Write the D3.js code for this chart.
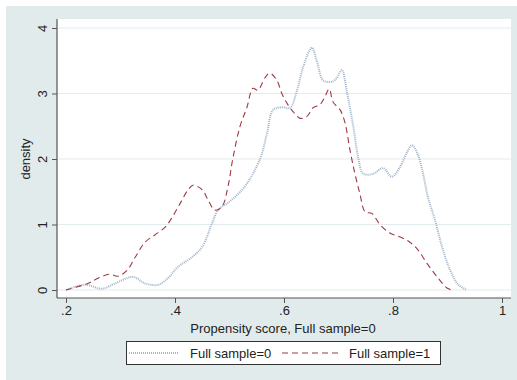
<!DOCTYPE html>
<html>

<head>
    <meta charset="UTF-8">
    <style>
        body { margin: 0; background: #fff; }
        svg { display: block; font-family: "Liberation Sans", Arial, sans-serif; }
    </style>
</head>

<body>
    <svg></svg>
    <script src="https://d3js.org/d3.v7.min.js"></script>

    <script>
        // density of propensity score, group 0 (Full sample=0)
        const score0 = [0.2, 0.235, 0.266, 0.29, 0.323, 0.345, 0.369, 0.387, 0.405, 0.431, 0.45, 0.468, 0.479, 0.497, 0.51,
            0.53, 0.556, 0.569, 0.58, 0.598, 0.611, 0.624, 0.635, 0.651, 0.66, 0.672, 0.688, 0.697, 0.706, 0.716,
            0.727, 0.736, 0.745, 0.763, 0.782, 0.798, 0.813, 0.825, 0.835, 0.846, 0.855, 0.864, 0.877, 0.89, 0.905, 0.92, 0.936];
        const density0 = [0, 0.08, 0.02, 0.1, 0.2, 0.1, 0.08, 0.18, 0.35, 0.5, 0.66, 1.02, 1.22, 1.33, 1.42,
            1.6, 2.0, 2.4, 2.75, 2.79, 2.78, 3.05, 3.4, 3.7, 3.5, 3.2, 3.18, 3.24, 3.36, 3.0,
            2.5, 2.03, 1.78, 1.77, 1.86, 1.73, 1.88, 2.09, 2.21, 2.06, 1.78, 1.42, 1.07, 0.66, 0.3, 0.08, 0];

        // density of propensity score, group 1 (Full sample=1)
        const score1 = [0.2, 0.24, 0.259, 0.28, 0.295, 0.312, 0.327, 0.345, 0.363, 0.382, 0.394, 0.41, 0.424, 0.433,
            0.45, 0.461, 0.473, 0.486, 0.497, 0.506, 0.519, 0.532, 0.543, 0.552, 0.565, 0.574, 0.587, 0.596,
            0.607, 0.617, 0.63, 0.642, 0.653, 0.666, 0.675, 0.683, 0.69, 0.703, 0.712, 0.721, 0.73, 0.739,
            0.749, 0.761, 0.776, 0.794, 0.813, 0.831, 0.846, 0.862, 0.881, 0.899, 0.908];
        const density1 = [0, 0.1, 0.18, 0.24, 0.21, 0.3, 0.5, 0.73, 0.84, 0.96, 1.1, 1.33, 1.53, 1.6,
            1.53, 1.37, 1.22, 1.27, 1.57, 2.0, 2.49, 2.79, 3.08, 3.05, 3.24, 3.31, 3.2, 3.0,
            2.83, 2.72, 2.62, 2.65, 2.78, 2.83, 2.95, 3.07, 2.87, 2.75, 2.55, 2.14, 1.78, 1.48,
            1.19, 1.17, 1.0, 0.87, 0.81, 0.73, 0.61, 0.41, 0.2, 0.03, 0];

        const xTicks = [0.2, 0.4, 0.6, 0.8, 1];
        const xTickLabels = [".2", ".4", ".6", ".8", "1"];
        const yTicks = [0, 1, 2, 3, 4];
        const seriesNames = ["Full sample=0", "Full sample=1"];

        const width = 517, height = 380;
        const plot = { left: 57, right: 511, top: 19, bottom: 298 };
        const fontSize = 13;

        const svg = d3.select("svg")
            .attr("width", width)
            .attr("height", height);

        // outer (graph region) background
        svg.append("rect")
            .attr("x", 6).attr("y", 6)
            .attr("width", width - 6).attr("height", height - 6)
            .attr("fill", "#e1ebeb");

        // plot region
        svg.append("rect")
            .attr("x", plot.left).attr("y", plot.top)
            .attr("width", plot.right - plot.left).attr("height", plot.bottom - plot.top)
            .attr("fill", "#fff");

        const x = d3.scaleLinear().domain([0.2, 1]).range([66, 502]);
        const y = d3.scaleLinear().domain([0, 4]).range([290, 28]);

        // gridlines
        svg.append("g")
            .selectAll("line")
            .data(yTicks)
            .join("line")
            .attr("x1", plot.left + 1).attr("x2", plot.right)
            .attr("y1", d => y(d)).attr("y2", d => y(d))
            .attr("stroke", "#e3ecec")
            .attr("stroke-width", 1.2);

        // y axis, labels turned on their side
        const yAxis = d3.axisLeft(y)
            .tickValues(yTicks)
            .tickFormat(d3.format("d"))
            .tickSize(5)
            .tickSizeOuter(0);
        const gy = svg.append("g")
            .attr("transform", `translate(${plot.left},0)`)
            .call(yAxis);
        gy.select(".domain").remove();
        gy.selectAll(".tick line").attr("stroke", "#555");
        gy.selectAll(".tick text")
            .attr("font-size", fontSize)
            .attr("fill", "#222")
            .attr("text-anchor", "middle")
            .attr("x", 0).attr("y", 0).attr("dy", null)
            .attr("transform", "translate(-10,0) rotate(-90)");
        svg.append("line")
            .attr("x1", plot.left).attr("x2", plot.left)
            .attr("y1", plot.top).attr("y2", plot.bottom)
            .attr("stroke", "#555").attr("stroke-width", 1.2);

        // x axis
        const xAxis = d3.axisBottom(x)
            .tickValues(xTicks)
            .tickFormat((d, i) => xTickLabels[i])
            .tickSize(5)
            .tickPadding(3)
            .tickSizeOuter(0);
        const gx = svg.append("g")
            .attr("transform", `translate(0,${plot.bottom})`)
            .call(xAxis);
        gx.select(".domain").remove();
        gx.selectAll(".tick line").attr("stroke", "#555");
        gx.selectAll(".tick text").attr("font-size", fontSize).attr("fill", "#222");
        svg.append("line")
            .attr("x1", plot.left).attr("x2", plot.right)
            .attr("y1", plot.bottom).attr("y2", plot.bottom)
            .attr("stroke", "#555").attr("stroke-width", 1.2);

        // axis titles
        svg.append("text")
            .attr("x", 283).attr("y", 333)
            .attr("text-anchor", "middle")
            .attr("font-size", fontSize).attr("fill", "#222")
            .text("Propensity score, Full sample=0");
        svg.append("text")
            .attr("transform", "translate(30,159) rotate(-90)")
            .attr("text-anchor", "middle")
            .attr("font-size", fontSize).attr("fill", "#222")
            .text("density");

        // curves
        const line = d3.line()
            .x(d => x(d[0]))
            .y(d => y(d[1]))
            .curve(d3.curveCatmullRom.alpha(0.5));

        const styles = [
            { stroke: "#9fb3c9", dash: "1,1", width: 2 },
            { stroke: "#9b3a44", dash: "6,4", width: 1.1 }
        ];

        const series = [
            d3.zip(score0, density0),
            d3.zip(score1, density1)
        ];

        svg.append("g")
            .selectAll("path")
            .data(series)
            .join("path")
            .attr("d", line)
            .attr("fill", "none")
            .attr("stroke", (d, i) => styles[i].stroke)
            .attr("stroke-width", (d, i) => styles[i].width)
            .attr("stroke-dasharray", (d, i) => styles[i].dash);

        // legend
        const legend = svg.append("g");
        legend.append("rect")
            .attr("x", 126.5).attr("y", 341.5)
            .attr("width", 314).attr("height", 23)
            .attr("fill", "#fff")
            .attr("stroke", "#333");
        const legendX = [[129, 178, 190], [282, 342, 349]];
        seriesNames.forEach((name, i) => {
            legend.append("line")
                .attr("x1", legendX[i][0]).attr("x2", legendX[i][1])
                .attr("y1", 353).attr("y2", 353)
                .attr("stroke", styles[i].stroke)
                .attr("stroke-width", styles[i].width)
                .attr("stroke-dasharray", styles[i].dash);
            legend.append("text")
                .attr("x", legendX[i][2]).attr("y", 357.5)
                .attr("font-size", fontSize).attr("fill", "#222")
                .text(name);
        });
    </script>

</body>

</html>
